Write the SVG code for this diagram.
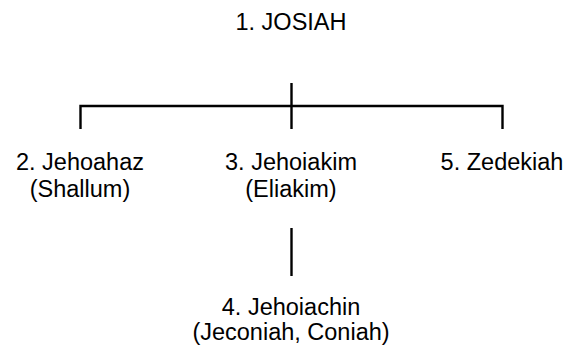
<svg xmlns="http://www.w3.org/2000/svg" width="568" height="345" viewBox="0 0 568 345">
<style>
text{font-family:"Liberation Sans",Arial,sans-serif;font-size:23.5px;fill:#000;text-anchor:middle}
.c{stroke:#000;stroke-width:2.4;fill:none}
</style>
<rect width="568" height="345" fill="#fff"/>
<g id="connectors">
<path class="c" d="M291.5,83V129M80.5,129V106H502.5V129"/>
<path class="c" d="M291.5,228V276"/>
</g>
<g id="n1"><text x="291" y="30">1. JOSIAH</text></g>
<g id="n2"><text x="80" y="170">2. Jehoahaz</text><text x="80" y="197">(Shallum)</text></g>
<g id="n3"><text x="291" y="170">3. Jehoiakim</text><text x="291" y="197">(Eliakim)</text></g>
<g id="n5"><text x="502" y="170">5. Zedekiah</text></g>
<g id="n4"><text x="291" y="315">4. Jehoiachin</text><text x="291" y="340">(Jeconiah, Coniah)</text></g>
</svg>
